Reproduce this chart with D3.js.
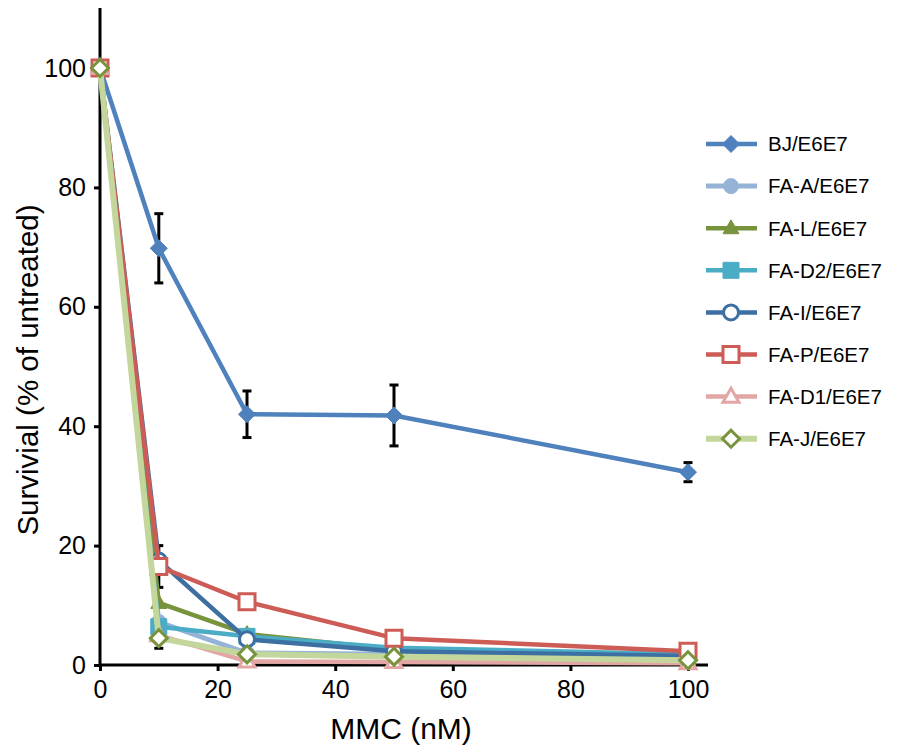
<!DOCTYPE html>
<html>
<head>
<meta charset="utf-8">
<script src="https://cdn.jsdelivr.net/npm/d3@7"></script>
<style>
  body { margin: 0; background: #fff; }
  svg { font-family: "Liberation Sans", Arial, sans-serif; }
</style>
</head>
<body>
<div id="chart"></div>
<script>
// doses (nM)
const doses = [0, 10, 25, 50, 100];

const seriesNames = ["BJ/E6E7", "FA-A/E6E7", "FA-L/E6E7", "FA-D2/E6E7", "FA-I/E6E7", "FA-P/E6E7", "FA-D1/E6E7", "FA-J/E6E7"];

// survival values, % of untreated
const bj   = [100, 69.8, 42.0, 41.8, 32.3];
const faA  = [100, 7.2, 2.0, 1.8, 1.2];
const faL  = [100, 10.4, 5.2, 2.6, 1.0];
const faD2 = [100, 6.4, 4.8, 2.9, 1.8];
const faI  = [100, 17.5, 4.3, 2.3, 1.5];
const faP  = [100, 16.5, 10.6, 4.5, 2.3];
const faD1 = [100, 5.0, 0.6, 0.5, 0.3];
const faJ  = [100, 4.5, 1.8, 1.4, 0.8];

// error (±) — only the visible ones
const bjErr  = [0, 5.8, 3.9, 5.1, 1.6];
const faPErr = [0, 3.5, 0, 0, 0];
const faJErr = [0, 1.7, 0, 0, 0];
const faLErr = [0, 0, 0.6, 0, 0];

const xTicks = [0, 20, 40, 60, 80, 100];
const yTicks = [0, 20, 40, 60, 80, 100];

const series = [
  {name: seriesNames[0], vals: bj,   err: bjErr,  line: "#4f81bd", lw: 4.5, shape: "diamond",  fill: "#4f81bd", stroke: "#4f81bd"},
  {name: seriesNames[1], vals: faA,  err: null,   line: "#95b3d7", lw: 5,   shape: "circle",   fill: "#95b3d7", stroke: "#95b3d7"},
  {name: seriesNames[2], vals: faL,  err: faLErr, line: "#77933c", lw: 4.5, shape: "triangle", fill: "#77933c", stroke: "#77933c"},
  {name: seriesNames[3], vals: faD2, err: null,   line: "#4bacc6", lw: 4.5, shape: "square",   fill: "#4bacc6", stroke: "#4bacc6"},
  {name: seriesNames[4], vals: faI,  err: null,   line: "#3d6fa3", lw: 4.5, shape: "circle",   fill: "#fff",    stroke: "#3d6fa3"},
  {name: seriesNames[5], vals: faP,  err: faPErr, line: "#cc5c55", lw: 4.5, shape: "square",   fill: "#fff",    stroke: "#cc5c55"},
  {name: seriesNames[6], vals: faD1, err: null,   line: "#e2a6a4", lw: 4.5, shape: "triangle", fill: "#fff",    stroke: "#e2a6a4"},
  {name: seriesNames[7], vals: faJ,  err: faJErr, line: "#c3d69b", lw: 6,   shape: "diamond",  fill: "#fff",    stroke: "#77933c"}
];

const W = 898, H = 754;
const svg = d3.select("#chart").append("svg").attr("width", W).attr("height", H);

const x = d3.scaleLinear().domain([0, 100]).range([100, 688]);
const y = d3.scaleLinear().domain([0, 100]).range([665, 68]);

// axes
const xAxis = svg.append("g")
  .attr("transform", "translate(0," + y(0) + ")")
  .call(d3.axisBottom(x).tickValues(xTicks).tickSize(6).tickPadding(9).tickSizeOuter(0));
xAxis.select(".domain").attr("d", "M" + x(0) + ",0H" + 708).attr("stroke-width", 3);
xAxis.selectAll(".tick line").attr("stroke-width", 3);
xAxis.selectAll("text").attr("font-size", 25).attr("fill", "#000");

const yAxis = svg.append("g")
  .attr("transform", "translate(" + x(0) + ",0)")
  .call(d3.axisLeft(y).tickValues(yTicks).tickSize(6).tickPadding(8).tickSizeOuter(0));
yAxis.select(".domain").attr("d", "M0," + y(0) + "V" + 8).attr("stroke-width", 3);
yAxis.selectAll(".tick line").attr("stroke-width", 3);
yAxis.selectAll("text").attr("font-size", 25).attr("fill", "#000");

svg.append("text")
  .attr("x", 401).attr("y", 739)
  .attr("text-anchor", "middle")
  .attr("font-size", 30)
  .text("MMC (nM)");

svg.append("text")
  .attr("transform", "translate(38,370) rotate(-90)")
  .attr("text-anchor", "middle")
  .attr("font-size", 29.5)
  .text("Survivial (% of untreated)");

// marker outlines
function symbolPath(shape) {
  const p = d3.path();
  if (shape === "diamond") {
    const r = 8.5;
    p.moveTo(0, -r); p.lineTo(r, 0); p.lineTo(0, r); p.lineTo(-r, 0); p.closePath();
  } else if (shape === "circle") {
    p.arc(0, 0, 7.5, 0, 2 * Math.PI); p.closePath();
  } else if (shape === "square") {
    p.rect(-8, -8, 16, 16);
  } else {
    const s = 16, h = s * Math.sqrt(3) / 2;
    p.moveTo(0, -h * 0.6); p.lineTo(s / 2, h * 0.4); p.lineTo(-s / 2, h * 0.4); p.closePath();
  }
  return p.toString();
}

const line = d3.line().x((d, i) => x(doses[i])).y(d => y(d));

// error bars
series.forEach(s => {
  if (!s.err) return;
  const g = svg.append("g");
  s.vals.forEach((v, i) => {
    const e = s.err[i];
    if (!e) return;
    const cx = x(doses[i]);
    g.append("line").attr("x1", cx).attr("x2", cx).attr("y1", y(v - e)).attr("y2", y(v + e))
      .attr("stroke", "#000").attr("stroke-width", 3);
    [v - e, v + e].forEach(vv => {
      g.append("line").attr("x1", cx - 4.5).attr("x2", cx + 4.5).attr("y1", y(vv)).attr("y2", y(vv))
        .attr("stroke", "#000").attr("stroke-width", 3);
    });
  });
});

// lines & markers
series.forEach(s => {
  svg.append("path").datum(s.vals)
    .attr("d", line)
    .attr("fill", "none")
    .attr("stroke", s.line)
    .attr("stroke-width", s.lw)
    .attr("stroke-linejoin", "round");
  svg.append("g").selectAll("path").data(s.vals).join("path")
    .attr("transform", (d, i) => "translate(" + x(doses[i]) + "," + y(d) + ")")
    .attr("d", symbolPath(s.shape))
    .attr("fill", s.fill)
    .attr("stroke", s.stroke)
    .attr("stroke-width", s.fill === "#fff" ? 3 : 1);
});

// legend
const legend = svg.append("g");
series.forEach((s, i) => {
  const ly = 144 + i * 42.1;
  const g = legend.append("g").attr("transform", "translate(0," + ly + ")");
  g.append("line").attr("x1", 706).attr("x2", 757).attr("y1", 0).attr("y2", 0)
    .attr("stroke", s.line).attr("stroke-width", s.lw);
  g.append("path").attr("transform", "translate(731,0)")
    .attr("d", symbolPath(s.shape))
    .attr("fill", s.fill).attr("stroke", s.stroke)
    .attr("stroke-width", s.fill === "#fff" ? 3 : 1);
  g.append("text").attr("x", 768).attr("y", 0).attr("dy", "0.36em")
    .attr("font-size", 20.5).text(s.name);
});
</script>
</body>
</html>
